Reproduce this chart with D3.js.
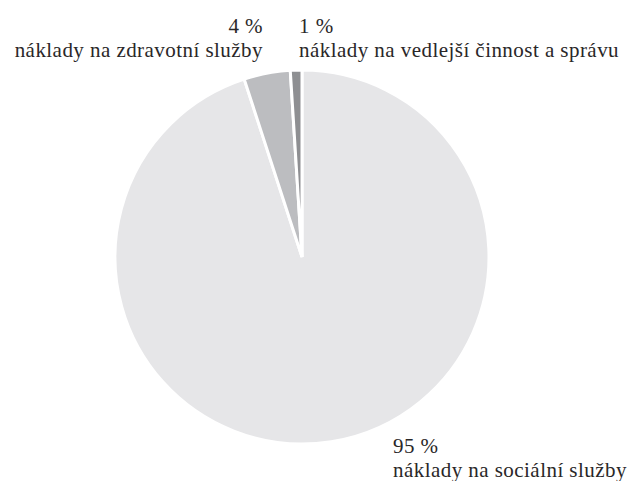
<!DOCTYPE html>
<html>
<head>
<meta charset="utf-8">
<script src="https://cdn.jsdelivr.net/npm/d3@7"></script>
<style>
html,body{margin:0;padding:0;background:#fff;}
svg{display:block;}
</style>
</head>
<body>
<svg id="chart" width="642" height="481"></svg>
<script>
const categories = ["náklady na sociální služby", "náklady na zdravotní služby", "náklady na vedlejší činnost a správu"];
const values = [95, 4, 1];
const percentLabels = ["95 %", "4 %", "1 %"];
const colors = ["#e6e6e8", "#bcbdc0", "#8e8f92"];

const svg = d3.select("#chart");
const cx = 302, cy = 257, r = 187;

const pie = d3.pie().sort(null).value(d => d)(values);
const arc = d3.arc().innerRadius(0).outerRadius(r);

const g = svg.append("g").attr("transform", `translate(${cx},${cy})`);
g.selectAll("path").data(pie).join("path")
  .attr("d", arc)
  .attr("fill", (d, i) => colors[i])
  .attr("stroke", "#fff")
  .attr("stroke-width", 3)
  .attr("stroke-linejoin", "miter");

const labelPos = [
  {x: 393, y: 453, anchor: "start"},
  {x: 263, y: 33, anchor: "end"},
  {x: 299, y: 33, anchor: "start"}
];
categories.forEach((c, i) => {
  const p = labelPos[i];
  const t = svg.append("text").attr("x", p.x).attr("y", p.y).attr("text-anchor", p.anchor)
    .attr("font-family", '"Liberation Serif"').attr("font-size", 21)
    .attr("letter-spacing", 0.45).attr("fill", "#2a2728");
  t.append("tspan").attr("x", p.x).text(percentLabels[i]);
  t.append("tspan").attr("x", p.x).attr("dy", 24).text(c);
});
</script>
</body>
</html>
